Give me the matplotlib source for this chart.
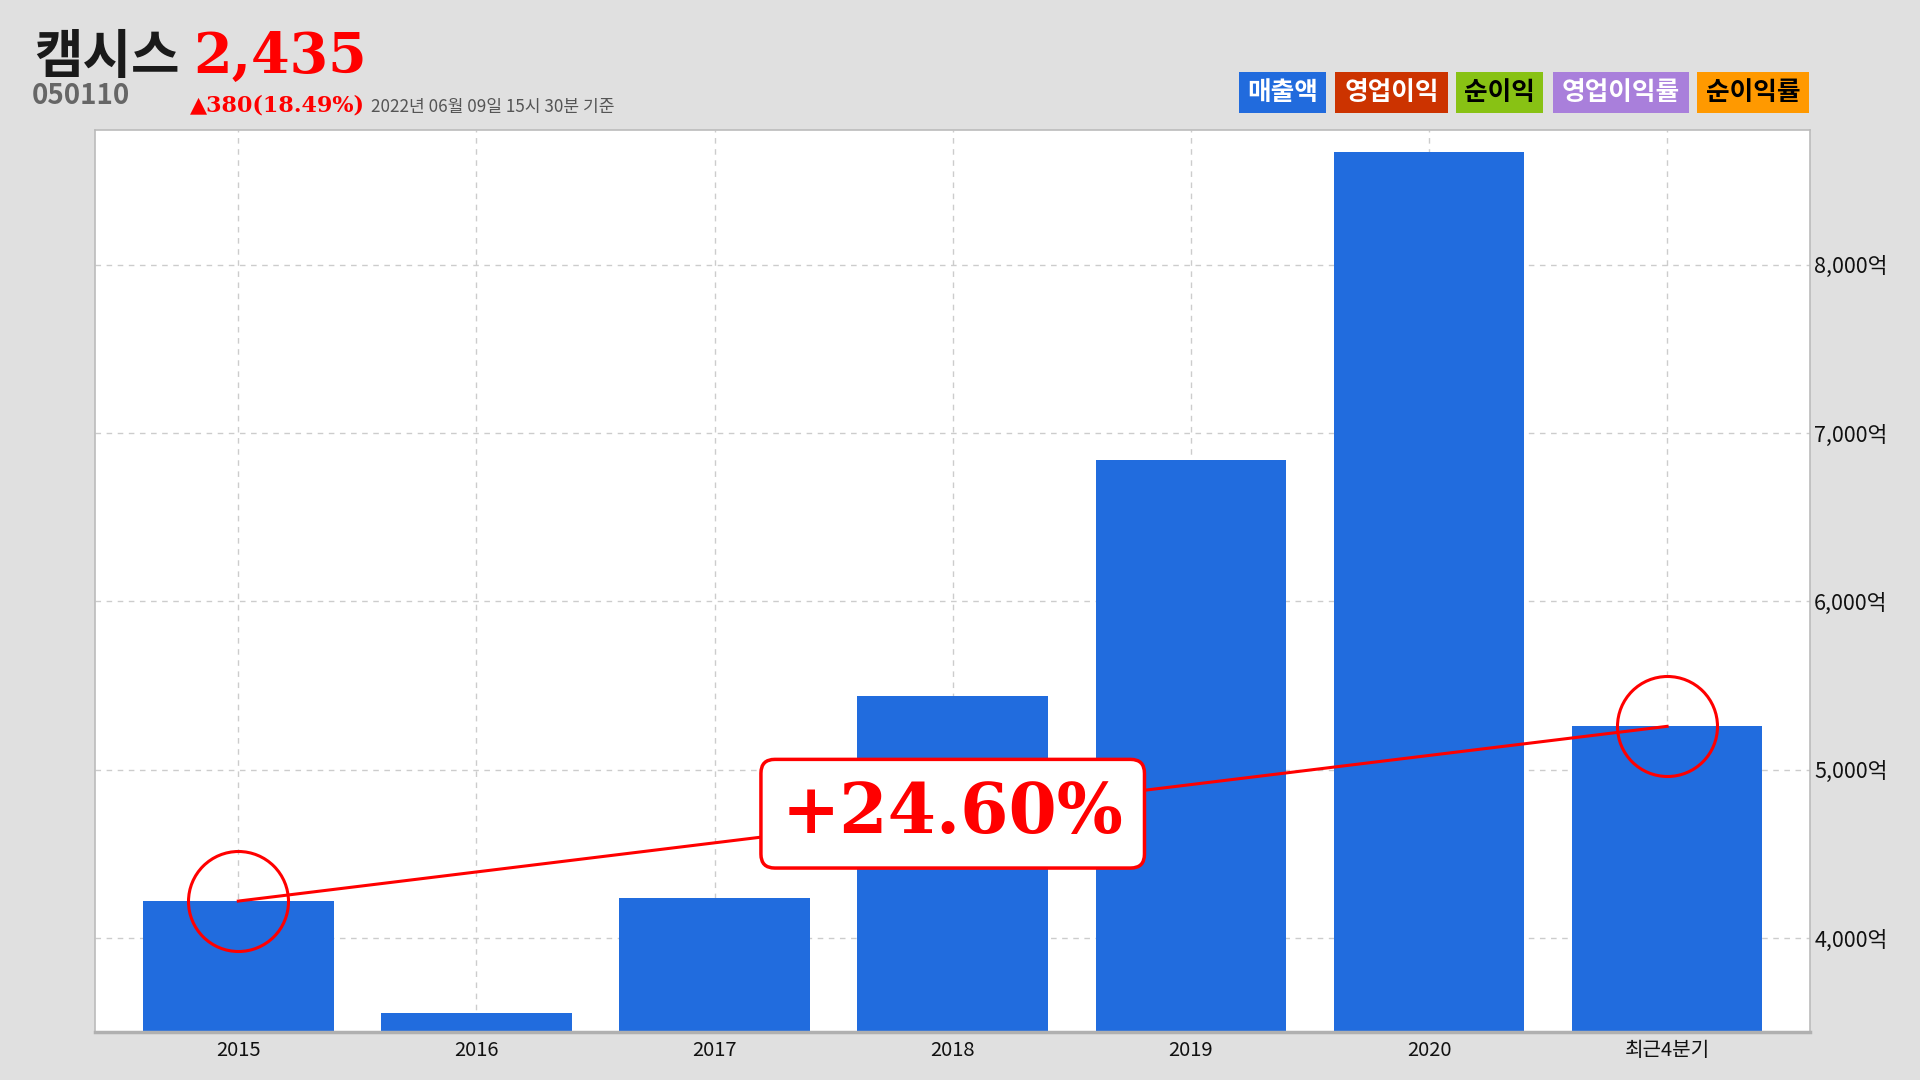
import matplotlib.pyplot as plt
from matplotlib.patches import Rectangle
from matplotlib.ticker import FuncFormatter

# data
categories = ["2015", "2016", "2017", "2018", "2019", "2020", "최근4분기"]
sales = [4220, 3557, 4240, 5440, 6843, 8669, 5258]
growth_label = "+24.60%"

legend_names = ["매출액", "영업이익", "순이익", "영업이익률", "순이익률"]
legend_colors = ["#216bdd", "#cc3300", "#88c214", "#a97fdb", "#ff9900"]
legend_text_colors = ["white", "white", "black", "white", "black"]

KR = ["Noto Sans CJK KR", "DejaVu Sans"]
bg = "#e0e0e0"
bar_color = "#216cde"

fig = plt.figure(figsize=(19.2, 10.8), dpi=100, facecolor=bg)
ax = fig.add_axes([0.0497, 0.0444, 0.893, 0.835])
ax.set_facecolor("white")

x = list(range(len(categories)))
ax.bar(x, sales, width=0.8, color=bar_color, zorder=2)
ax.set_xlim(-0.6, len(categories) - 0.4)
ax.set_ylim(3442, 8799)

ax.yaxis.tick_right()
ax.set_yticks([4000, 5000, 6000, 7000, 8000])
ax.yaxis.set_major_formatter(FuncFormatter(lambda v, p: f"{int(v):,}억"))
ax.set_xticks(x)
ax.set_xticklabels(categories)
for lab in ax.get_xticklabels():
    lab.set_family(KR)
    lab.set_fontsize(14.5)
    lab.set_color("#111111")
for lab in ax.get_yticklabels():
    lab.set_family(KR)
    lab.set_fontsize(15.5)
    lab.set_color("#111111")
ax.tick_params(axis="x", length=0, pad=6)
ax.tick_params(axis="y", length=0, pad=3)
ax.grid(True, color="#cccccc", linestyle=(0, (4, 4)), linewidth=1, zorder=0)
for s in ["top", "left", "right"]:
    ax.spines[s].set_color("#bbbbbb")
    ax.spines[s].set_linewidth(1.2)
ax.spines["bottom"].set_color("#b0b0b0")
ax.spines["bottom"].set_linewidth(2.5)

# growth line and circles
x0, x1 = x[0], x[-1]
y0, y1 = sales[0], sales[-1]
ax.plot([x0, x1], [y0, y1], color="#ff0000", linewidth=2.2, zorder=3)
ax.plot([x0, x1], [y0, y1], linestyle="none", marker="o", markersize=72,
        markerfacecolor="none", markeredgecolor="#ff0000", markeredgewidth=2.2, zorder=4)
ax.text((x0 + x1) / 2, (y0 + y1) / 2, growth_label, ha="center", va="center",
        fontsize=50, fontweight="bold", family="DejaVu Serif", color="#ff0000", zorder=5,
        bbox=dict(boxstyle="round,pad=0.3,rounding_size=0.2", facecolor="white",
                  edgecolor="#ff0000", linewidth=2.5))

# header
fig.text(0.0179, 0.947, "캠시스", family=KR, fontsize=38, fontweight="bold",
         color="#1a1a1a", ha="left", va="center")
fig.text(0.1008, 0.947, "2,435", family="DejaVu Serif", fontsize=40, fontweight="bold",
         color="#ff0000", ha="left", va="center")
fig.text(0.0166, 0.911, "050110", family=KR, fontsize=20, fontweight="bold",
         color="#666666", ha="left", va="center")
fig.text(0.0989, 0.9025, "▲380(18.49%)", family=["DejaVu Serif", "DejaVu Sans"], fontsize=16,
         fontweight="bold", color="#ff0000", ha="left", va="center")
fig.text(0.1932, 0.901, "2022년 06월 09일 15시 30분 기준", family=KR, fontsize=12.3,
         color="#555555", ha="left", va="center")

# legend boxes
box_x = [1239, 1335, 1456, 1553, 1697]
box_w = [87, 113, 87, 136, 112]
for name, c, tc, bx, bw in zip(legend_names, legend_colors, legend_text_colors, box_x, box_w):
    fig.patches.append(Rectangle((bx / 1920, 1 - 113 / 1080), bw / 1920, 41 / 1080,
                                 transform=fig.transFigure, facecolor=c, edgecolor="none"))
    fig.text((bx + bw / 2) / 1920, 1 - 92.5 / 1080, name, family=KR, fontsize=18.5,
             fontweight="bold", color=tc, ha="center", va="center")

fig.savefig("out.png", dpi=100, facecolor=bg)
